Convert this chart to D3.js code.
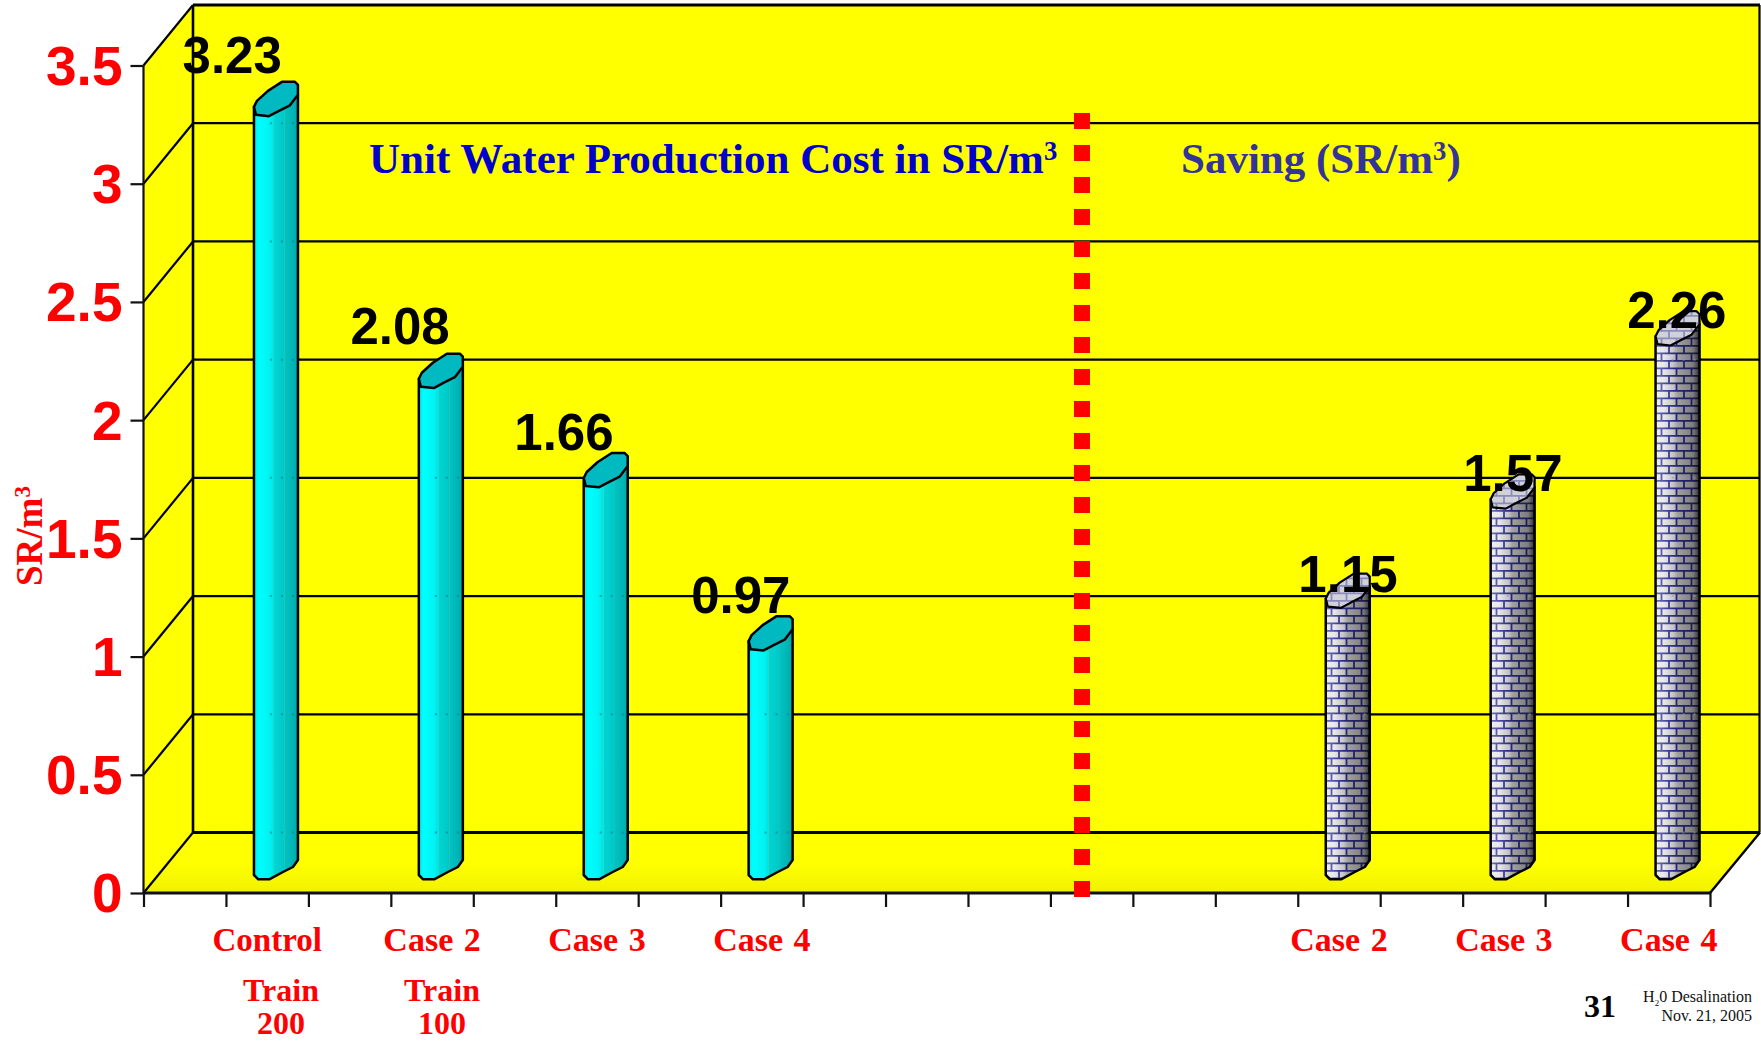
<!DOCTYPE html>
<html>
<head>
<meta charset="utf-8">
<title>Unit Water Production Cost</title>
<script src="https://cdnjs.cloudflare.com/ajax/libs/d3/7.8.5/d3.min.js"></script>
<style>
  html, body { margin: 0; padding: 0; background: #fff; }
  svg { display: block; }
  .serif { font-family: "Liberation Serif", "Times New Roman", serif; font-weight: bold; }
  .sans { font-family: "Liberation Sans", Arial, sans-serif; font-weight: bold; }
</style>
</head>
<body>
<svg id="chart" width="1761" height="1041"></svg>
<script>
// Chart values
const yTicks = [0, 0.5, 1, 1.5, 2, 2.5, 3, 3.5];
const costSlots = [1, 3, 5, 7];
const costValues = [3.23, 2.08, 1.66, 0.97];
const costLabels = ["Control", "Case 2", "Case 3", "Case 4"];
const savingSlots = [14, 16, 18];
const savingValues = [1.15, 1.57, 2.26];
const savingLabels = ["Case 2", "Case 3", "Case 4"];
const slotCount = 19;
const trainNotes = [["Train", "200"], ["Train", "100"]];

// Hand-placed value label nudges, relative to each column
const costNudgeX = [-35, -32, -33, -21];
const costNudgeY = [-37, -38, -31, -31];
const savingNudgeX = [9, 9, 8];
const savingNudgeY = [-10, -11, -11];

// Box geometry: front plane, back wall, floor
const svg = d3.select("#chart");
const frontLeft = 143.5, frontRight = 1710, depthX = 50;
const x = d3.scaleLinear().domain([0, slotCount]).range([frontLeft, frontRight]);
const yFront = d3.scaleLinear().domain([0, 3.5]).range([893, 65.5]);
const yBack = d3.scaleLinear().domain([0, 3.5]).range([832.5, 5]);
const yTop = d3.scaleLinear().domain([0, 3.5]).range([873.5, 46]);   // column top face
const backLeft = frontLeft + depthX - 0.5, backRight = frontRight + depthX;
const ink = "#000";

const defs = svg.append("defs");

// Banded shading across a cyan column
const cyanGrad = defs.append("linearGradient").attr("id", "cyanBody");
[[0, "#00e8e8"], [0.1, "#00ffff"], [0.36, "#00f2f2"], [0.44, "#00e2e2"], [0.45, "#30d8c0"], [0.47, "#00d4d4"],
 [0.68, "#00c8c8"], [0.69, "#30c4b0"], [0.71, "#00c2c2"], [0.9, "#00b4b4"], [1, "#00a6a8"]]
  .forEach(([o, c]) => cyanGrad.append("stop").attr("offset", o).attr("stop-color", c));

// Shade overlay across a brick column
const brickShade = defs.append("linearGradient").attr("id", "brickShade");
[[0, "#fff", 0.3], [0.18, "#fff", 0.15], [0.4, "#000", 0.14], [0.5, "#000", 0.3], [0.85, "#000", 0.46], [1, "#000", 0.8]]
  .forEach(([o, c, a]) => brickShade.append("stop").attr("offset", o).attr("stop-color", c).attr("stop-opacity", a));

// Running-bond brick tile
const brick = defs.append("pattern").attr("id", "bricks").attr("patternUnits", "userSpaceOnUse")
  .attr("width", 15).attr("height", 15);
brick.append("rect").attr("width", 15).attr("height", 15).attr("fill", "#e6e6e6");
brick.append("path")
  .attr("d", "M0 .8H15 M0 8.3H15 M4 0V7.5 M11.5 7.5V15")
  .attr("stroke", "#34349c").attr("stroke-width", 1.8).attr("fill", "none");

const floorFade = defs.append("linearGradient").attr("id", "floorFade").attr("x1", 0).attr("x2", 0).attr("y1", 0).attr("y2", 1);
[[0, "#ffff00"], [0.5, "#ffff00"], [1, "#f1f100"]]
  .forEach(([o, c]) => floorFade.append("stop").attr("offset", o).attr("stop-color", c));

// Walls and floor
svg.append("rect").attr("x", backLeft).attr("y", yBack(3.5))
  .attr("width", backRight - backLeft).attr("height", yBack(0) - yBack(3.5)).attr("fill", "#ffff00");
svg.append("polygon").attr("fill", "#ffff00")
  .attr("points", [[frontLeft, yFront(0)], [frontLeft, yFront(3.5)], [backLeft, yBack(3.5)], [backLeft, yBack(0)]].join(" "));
svg.append("polygon").attr("fill", "url(#floorFade)")
  .attr("points", [[frontLeft, yFront(0)], [frontRight, yFront(0)], [backRight, yBack(0)], [backLeft, yBack(0)]].join(" "));

// Back-wall gridlines, side-wall diagonals
const grid = svg.append("g").attr("stroke", ink).attr("stroke-width", 2.2).attr("fill", "none");
yTicks.forEach(v => {
  grid.append("line").attr("x1", backLeft).attr("x2", backRight).attr("y1", yBack(v)).attr("y2", yBack(v))
    .attr("stroke-width", v === 0 || v === 3.5 ? 2.8 : 2.2);
  grid.append("line").attr("x1", frontLeft).attr("x2", backLeft).attr("y1", yFront(v)).attr("y2", yBack(v));
});
grid.append("line").attr("x1", backLeft).attr("x2", backLeft).attr("y1", yBack(3.5)).attr("y2", yBack(0)).attr("stroke-width", 2.6);
grid.append("line").attr("x1", backRight - 0.5).attr("x2", backRight - 0.5).attr("y1", yBack(3.5)).attr("y2", yBack(0)).attr("stroke-width", 2.2);
grid.append("line").attr("x1", frontRight).attr("x2", backRight).attr("y1", yFront(0)).attr("y2", yBack(0)).attr("stroke-width", 2.4);

// Axes
const xAxis = svg.append("g").attr("transform", `translate(0,${yFront(0)})`)
  .call(d3.axisBottom(x).tickValues(d3.range(slotCount + 1)).tickSize(14).tickFormat(""));
xAxis.selectAll("path,line").attr("stroke", "#111").attr("stroke-width", 2.2);
xAxis.select("path").attr("d", `M${frontLeft},0H${frontRight}`).attr("stroke-width", 2.8);

const yAxis = svg.append("g").attr("transform", `translate(${frontLeft},0)`)
  .call(d3.axisLeft(yFront).tickValues(yTicks).tickSize(13).tickPadding(8).tickFormat(d => String(d)));
yAxis.selectAll("path,line").attr("stroke", "#111").attr("stroke-width", 2.2);
yAxis.select("path").attr("d", `M0,${yFront(3.5)}V${yFront(0)}`);
yAxis.selectAll("text").attr("class", "sans").attr("font-size", 55).attr("fill", "#ff0000")
  .attr("dy", "0.345em").attr("font-family", null);

// Column outlines, measured from the column's left edge
const colW = 44, slant = 15;
function bodyPath(px, topY) {
  const bottom = yFront(0) - 18;
  return `M${px},${topY - 3}V${bottom}L${px + 4.3},${bottom + 4.3}H${px + 15.3}L${px + 29},${bottom - 3}L${px + 39},${bottom - 8}` +
    `L${px + colW},${bottom - slant}V${topY - slant}Z`;
}
function capPath(px, topY) {
  return `M${px},${topY - 3}L${px + 2},${topY + 5}L${px + 15},${topY + 6.3}L${px + 25},${topY + 1}L${px + 36},${topY - 4.5}L${px + colW},${topY - slant}` +
    `V${topY - 25}L${px + 41},${topY - 28}H${px + 28}L${px + 14},${topY - 19}L${px + 3},${topY - 9}Z`;
}
const slotToLeft = s => x(s) + 28;

// Back-wall lines faintly showing through the shaded side of a column
function seeThrough(px, v, color) {
  yTicks.filter(t => yBack(t) > yTop(v) + 8).forEach(t => {
    columns.append("line").attr("x1", px + 16).attr("x2", px + colW - 1.5).attr("y1", yBack(t)).attr("y2", yBack(t))
      .attr("stroke", color).attr("stroke-width", 2).attr("stroke-dasharray", "2 9").attr("stroke-opacity", 0.6);
  });
}

const columns = svg.append("g").attr("stroke-linejoin", "round");
costValues.forEach((v, i) => {
  const px = slotToLeft(costSlots[i]), t = yTop(v);
  columns.append("path").attr("d", bodyPath(px, t)).attr("fill", "url(#cyanBody)").attr("stroke", ink).attr("stroke-width", 2.5);
  seeThrough(px, v, "#0a7a8a");
  columns.append("path").attr("d", capPath(px, t)).attr("fill", "#00b9c1").attr("stroke", ink).attr("stroke-width", 2.5);
});
savingValues.forEach((v, i) => {
  const px = slotToLeft(savingSlots[i]), t = yTop(v);
  columns.append("path").attr("d", bodyPath(px, t)).attr("fill", "url(#bricks)");
  columns.append("path").attr("d", bodyPath(px, t)).attr("fill", "url(#brickShade)").attr("stroke", ink).attr("stroke-width", 2.5);
  seeThrough(px, v, "#9a9a8a");
  columns.append("path").attr("d", capPath(px, t)).attr("fill", "url(#bricks)");
  columns.append("path").attr("d", capPath(px, t)).attr("fill", "#c4c4d0").attr("fill-opacity", 0.62).attr("stroke", ink).attr("stroke-width", 2.2);
});

// Divider between the two groups
svg.append("line").attr("x1", 1082).attr("x2", 1082).attr("y1", 113).attr("y2", 897)
  .attr("stroke", "#ff0000").attr("stroke-width", 16).attr("stroke-dasharray", "16 16");

// Value labels
function valueLabel(v, slot, dx, dy) {
  svg.append("text").attr("class", "sans").attr("font-size", 51).attr("fill", "#000")
    .attr("text-anchor", "middle").attr("x", x(slot + 0.5) + dx).attr("y", yTop(v) + dy).text(v.toFixed(2));
}
costValues.forEach((v, i) => valueLabel(v, costSlots[i], costNudgeX[i], costNudgeY[i]));
savingValues.forEach((v, i) => valueLabel(v, savingSlots[i], savingNudgeX[i], savingNudgeY[i]));

// Category labels
function slotLabels(slots, labels) {
  svg.selectAll(null).data(labels).enter().append("text").attr("class", "serif")
    .attr("font-size", d => d.includes(" ") ? 34 : 33).attr("word-spacing", 2).attr("fill", "#ff0000").attr("text-anchor", "middle")
    .attr("x", (d, i) => x(slots[i] + 0.5)).attr("y", 951).text(d => d);
}
slotLabels(costSlots, costLabels);
slotLabels(savingSlots, savingLabels);

trainNotes.forEach((lines, i) => {
  const cx = [281, 442][i];
  lines.forEach((t, j) => svg.append("text").attr("class", "serif").attr("font-size", 32).attr("fill", "#ff0000")
    .attr("text-anchor", "middle").attr("x", cx).attr("y", [1001, 1034][j]).text(t));
});

// Headings with a raised exponent
function heading(x0, base, size, color, text) {
  const t = svg.append("text").attr("class", "serif").attr("font-size", size).attr("fill", color)
    .attr("x", x0).attr("y", base);
  t.append("tspan").text(text);
  t.append("tspan").attr("font-size", size * 0.62).attr("dy", -size * 0.3).text("3");
  return t;
}
const costHead = heading(369, 173, 43, "#0000cc", "Unit Water Production Cost in SR/m");
const saveHead = heading(1181, 173, 43, "#333399", "Saving (SR/m");
saveHead.append("tspan").attr("dy", 43 * 0.3).text(")");

// Rotated unit label
const unit = svg.append("text").attr("class", "serif").attr("font-size", 37).attr("fill", "#ff0000")
  .attr("transform", "translate(42,586) rotate(-90)");
unit.append("tspan").text("SR/m");
unit.append("tspan").attr("font-size", 23).attr("dy", -12).text("3");

// Slide footer
const footFont = "Liberation Serif, Times New Roman, serif";
svg.append("text").attr("class", "serif").attr("font-size", 32).attr("fill", "#000")
  .attr("x", 1584).attr("y", 1017).text("31");
const foot = svg.append("text").attr("font-family", footFont).attr("font-size", 16).attr("fill", "#111")
  .attr("text-anchor", "end").attr("x", 1752).attr("y", 1002);
foot.append("tspan").text("H");
foot.append("tspan").attr("font-size", 9).attr("dy", 4).text("2");
foot.append("tspan").attr("dy", -4).text("0 Desalination");
svg.append("text").attr("font-family", footFont).attr("font-size", 16).attr("fill", "#111")
  .attr("text-anchor", "end").attr("x", 1752).attr("y", 1021).text("Nov. 21, 2005");
</script>
</body>
</html>
